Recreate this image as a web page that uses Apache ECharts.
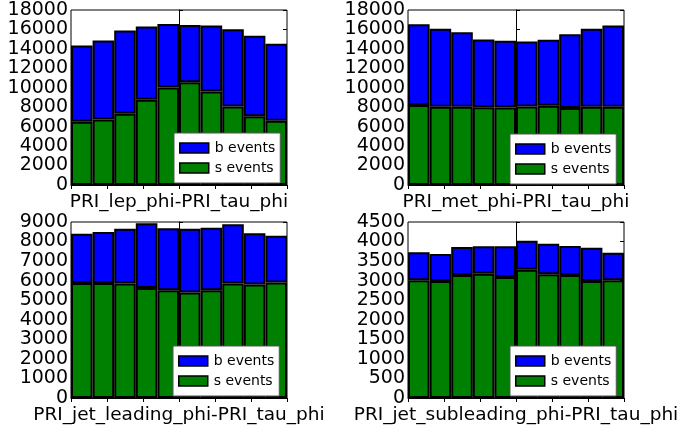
<!DOCTYPE html>
<html>
<head>
<meta charset="utf-8">
<script src="https://cdn.jsdelivr.net/npm/echarts@6/dist/echarts.min.js"></script>
<style>html,body{margin:0;padding:0;background:#fff;}#c{width:683px;height:431px;}</style>
</head>
<body>
<div id="c"></div>
<script>
const bins = ['1','2','3','4','5','6','7','8','9','10'];
const titles = ['PRI_lep_phi-PRI_tau_phi','PRI_met_phi-PRI_tau_phi','PRI_jet_leading_phi-PRI_tau_phi','PRI_jet_subleading_phi-PRI_tau_phi'];
// s events (bottom) and totals (top of b events stack)
const sLep = [6510, 6750, 7330, 8760, 10020, 10570, 9610, 8080, 7060, 6610];
const totLep = [14350, 14870, 15890, 16300, 16570, 16470, 16400, 16020, 15340, 14520];
const sMet = [8220, 8050, 8050, 8010, 7980, 8080, 8150, 7910, 8050, 8050];
const totMet = [16540, 16060, 15720, 14970, 14830, 14760, 14930, 15510, 16060, 16400];
const sJet = [5880, 5880, 5850, 5620, 5510, 5400, 5510, 5850, 5810, 5910];
const totJet = [8400, 8490, 8660, 8930, 8680, 8660, 8710, 8880, 8420, 8300];
const sSub = [3008, 2991, 3145, 3179, 3094, 3281, 3162, 3145, 2991, 3008];
const totSub = [3724, 3682, 3861, 3878, 3878, 4023, 3946, 3887, 3844, 3716];
const yMax = [18000, 18000, 9000, 4500];
const yStep = [2000, 2000, 1000, 500];

const sets = [[sLep,totLep],[sMet,totMet],[sJet,totJet],[sSub,totSub]];
const grids = [
  {left:71, top:10, width:216, height:175},
  {left:408, top:10, width:216, height:175},
  {left:71, top:222, width:216, height:176},
  {left:408, top:222, width:216, height:176}
];
const FONT = 'DejaVu Sans';
const opt = {
  animation:false,
  backgroundColor:'#fff',
  grid: grids.map(g=>Object.assign({show:true, borderColor:'#000', borderWidth:1, backgroundColor:'transparent'}, g)),
  xAxis:[], yAxis:[], series:[], legend:[]
};
const legendPos = [
  {left:174, top:133}, {left:510, top:134}, {left:173, top:346}, {left:510, top:346}
];
for (let i=0;i<4;i++){
  opt.xAxis.push({
    type:'category', gridIndex:i, data:bins, position:'bottom',
    axisLine:{show:true, lineStyle:{color:'#000', width:1}},
    axisTick:{show:false}, axisLabel:{show:false},
    name:titles[i], nameLocation:'middle', nameGap:8,
    nameTextStyle:{fontFamily:FONT, fontSize:18.5, color:'#000', verticalAlign:'top'}
  });
  opt.xAxis.push({
    type:'value', gridIndex:i, position:'top', min:-6, max:6, interval:2,
    axisLine:{show:false}, splitLine:{show:false}, axisLabel:{show:false},
    axisTick:{show:true, inside:true, length:4, lineStyle:{color:'#000'}}
  });
  opt.yAxis.push({
    type:'value', gridIndex:i, min:0, max:yMax[i], interval:yStep[i], position:'left',
    axisLine:{show:true, lineStyle:{color:'#000'}},
    axisTick:{show:true, inside:true, length:4, lineStyle:{color:'#000'}},
    splitLine:{show:false},
    axisLabel:{fontFamily:FONT, fontSize:19, color:'#000', margin:3, formatter:v=>String(v)}
  });
  opt.yAxis.push({
    type:'value', gridIndex:i, min:0, max:yMax[i], interval:yStep[i], position:'right',
    axisLine:{show:false},
    axisTick:{show:true, inside:true, length:4, lineStyle:{color:'#000'}},
    splitLine:{show:false}, axisLabel:{show:false}
  });
  const s = sets[i][0], tot = sets[i][1];
  const b = tot.map((v,k)=>v - s[k]);
  opt.series.push({
    name:'s events', type:'bar', xAxisIndex:2*i, yAxisIndex:2*i, stack:'st'+i,
    data:s, barCategoryGap:'0%', barGap:'0%',
    itemStyle:{color:'#008000', borderColor:'#000', borderWidth:2},
    z:2
  });
  opt.series.push({
    name:'b events', type:'bar', xAxisIndex:2*i, yAxisIndex:2*i, stack:'st'+i,
    data:b, barCategoryGap:'0%', barGap:'0%',
    itemStyle:{color:'#0000ff', borderColor:'#000', borderWidth:2},
    z:2
  });
  opt.legend.push({
    left:legendPos[i].left, top:legendPos[i].top, orient:'vertical',
    data:['b events','s events'],
    backgroundColor:'#fff', borderColor:'#555', borderWidth:1,
    padding:[8,5,8,5], itemGap:6, itemWidth:29, itemHeight:10, icon:'rect',
    itemStyle:{borderColor:'#000', borderWidth:1.5},
    textStyle:{fontFamily:FONT, fontSize:14, color:'#000', padding:[0,0,0,1]},
    selectedMode:false, z:10
  });
}
const chart = echarts.init(document.getElementById('c'), null, {renderer:'canvas'});
chart.setOption(opt);
</script>
</body>
</html>
